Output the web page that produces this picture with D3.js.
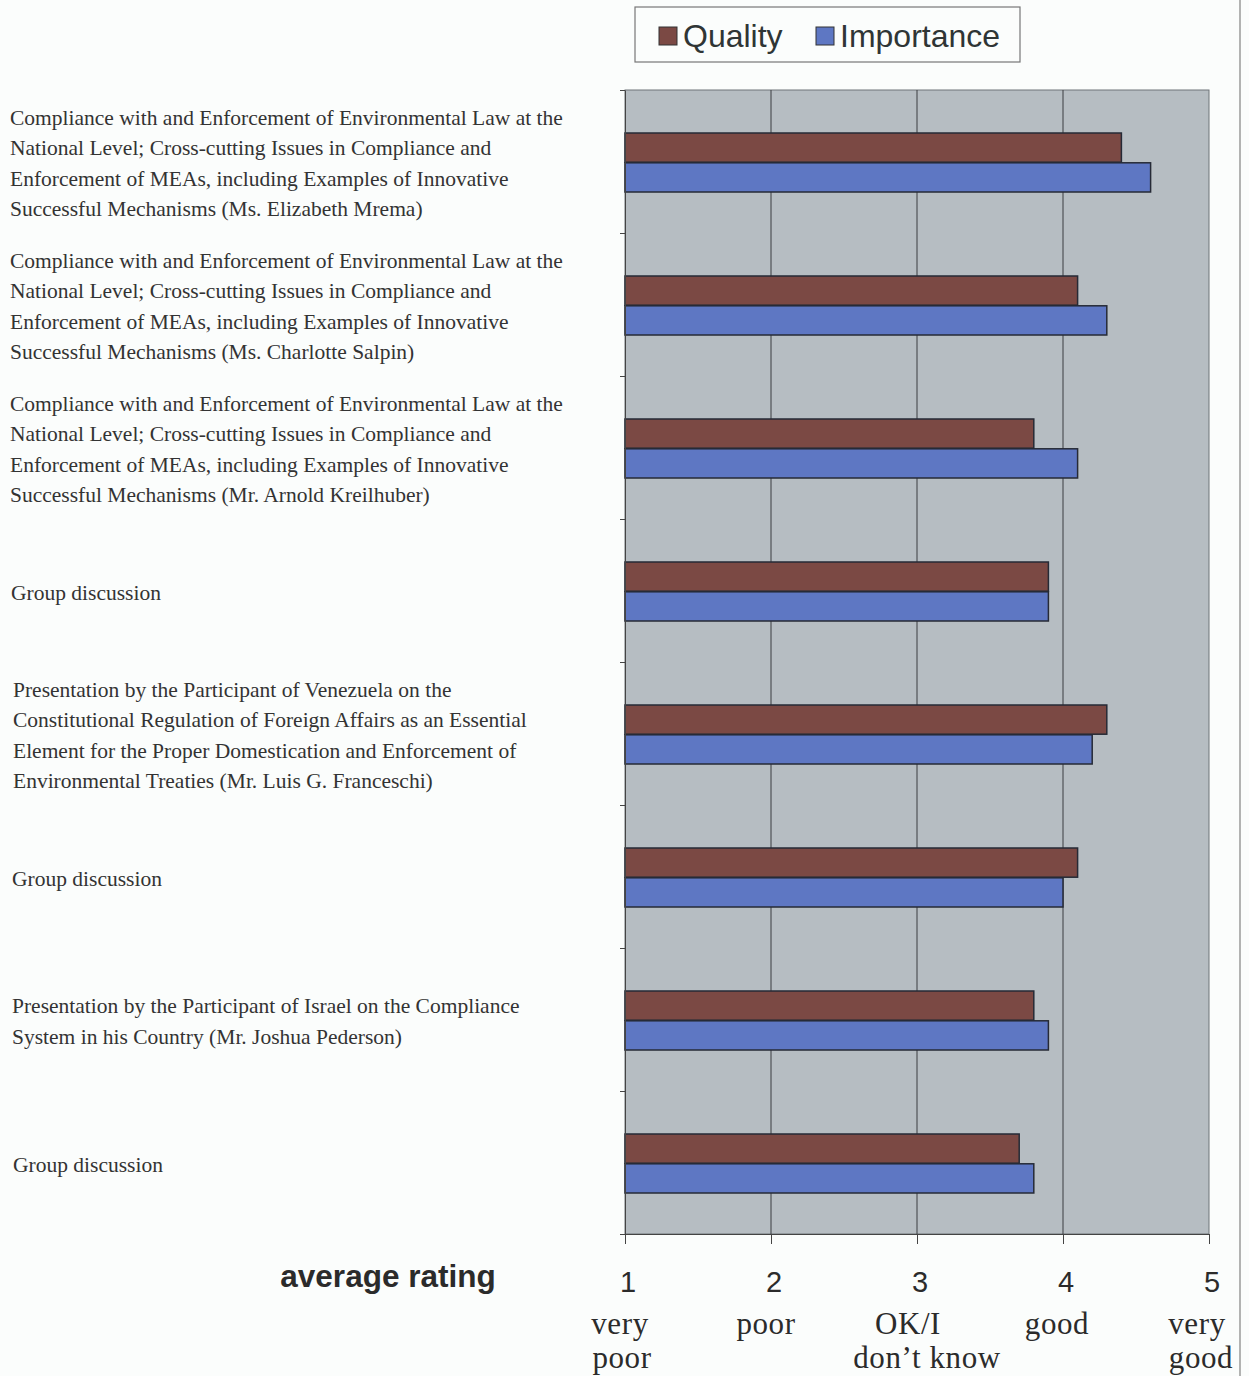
<!DOCTYPE html>
<html>
<head>
<meta charset="utf-8">
<script src="https://cdn.jsdelivr.net/npm/d3@7"></script>
<style>
  html, body { margin: 0; padding: 0; background: #fbfdfc; }
  svg { display: block; }
</style>
</head>
<body>
<script>
// Session titles, one array of text lines per session
const sessions = [
  ["Compliance with and Enforcement of Environmental Law at the",
   "National Level; Cross-cutting Issues in Compliance and",
   "Enforcement of MEAs, including Examples of Innovative",
   "Successful Mechanisms (Ms. Elizabeth Mrema)"],
  ["Compliance with and Enforcement of Environmental Law at the",
   "National Level; Cross-cutting Issues in Compliance and",
   "Enforcement of MEAs, including Examples of Innovative",
   "Successful Mechanisms (Ms. Charlotte Salpin)"],
  ["Compliance with and Enforcement of Environmental Law at the",
   "National Level; Cross-cutting Issues in Compliance and",
   "Enforcement of MEAs, including Examples of Innovative",
   "Successful Mechanisms (Mr. Arnold Kreilhuber)"],
  ["Group discussion"],
  ["Presentation by the Participant of Venezuela on the",
   "Constitutional Regulation of Foreign Affairs as an Essential",
   "Element for the Proper Domestication and Enforcement of",
   "Environmental Treaties (Mr. Luis G. Franceschi)"],
  ["Group discussion"],
  ["Presentation by the Participant of Israel on the Compliance",
   "System in his Country (Mr. Joshua Pederson)"],
  ["Group discussion"]
];

// Average ratings per session
const quality    = [4.4, 4.1, 3.8, 3.9, 4.3, 4.1, 3.8, 3.7];
const importance = [4.6, 4.3, 4.1, 3.9, 4.2, 4.0, 3.9, 3.8];

const seriesNames = ["Quality", "Importance"];
const seriesColors = ["#7b4944", "#5e77c3"];

// Rating scale ticks and their meaning
const ratingTicks = [1, 2, 3, 4, 5];
const ratingWords = [["very", "poor"], ["poor"], ["OK/I", "don\u2019t know"], ["good"], ["very", "good"]];

const W = 1249, H = 1376;
const plot = { left: 625, right: 1209, top: 90, bottom: 1234 };

const svg = d3.select("body").append("svg")
  .attr("width", W).attr("height", H);

const x = d3.scaleLinear().domain([1, 5]).range([plot.left, plot.right]);
const y = d3.scaleBand().domain(d3.range(sessions.length))
  .range([plot.top, plot.bottom]);
const inner = d3.scaleBand().domain(seriesNames)
  .range([43, 102]).paddingInner(0.02);

// page border on the right
svg.append("line")
  .attr("x1", 1240).attr("x2", 1240).attr("y1", 0).attr("y2", H)
  .attr("stroke", "#9a9a9a").attr("stroke-width", 1.5);

// plot background
svg.append("rect")
  .attr("x", plot.left).attr("y", plot.top)
  .attr("width", plot.right - plot.left).attr("height", plot.bottom - plot.top)
  .attr("fill", "#b6bdc2").attr("stroke", "#6f7478").attr("stroke-width", 1);

// vertical gridlines
svg.append("g").selectAll("line")
  .data(ratingTicks.slice(1, -1))
  .join("line")
  .attr("x1", d => x(d)).attr("x2", d => x(d))
  .attr("y1", plot.top).attr("y2", plot.bottom)
  .attr("stroke", "#3a3d40").attr("stroke-width", 1);

// bars
const rows = sessions.map((s, i) => ({ i, values: [quality[i], importance[i]] }));
const groups = svg.append("g").selectAll("g")
  .data(rows).join("g")
  .attr("transform", d => `translate(0,${y(d.i)})`);
groups.selectAll("rect")
  .data(d => d.values.map((v, k) => ({ v, k })))
  .join("rect")
  .attr("x", x(1))
  .attr("y", d => inner(seriesNames[d.k]))
  .attr("width", d => x(d.v) - x(1))
  .attr("height", inner.bandwidth())
  .attr("fill", d => seriesColors[d.k])
  .attr("stroke", "#262a36").attr("stroke-width", 1.5);

// left axis (category ticks, no labels)
const yAxis = d3.axisLeft(d3.scaleLinear().domain([0, sessions.length]).range([plot.top, plot.bottom]))
  .tickValues(d3.range(sessions.length + 1)).tickFormat("").tickSize(5).tickSizeOuter(0);
svg.append("g").attr("transform", `translate(${plot.left},0)`).call(yAxis)
  .call(g => g.selectAll("line,path").attr("stroke", "#444"));

// bottom axis
const xAxis = d3.axisBottom(x).tickValues(ratingTicks).tickFormat("")
  .tickSize(10).tickSizeOuter(0);
svg.append("g").attr("transform", `translate(0,${plot.bottom})`).call(xAxis)
  .call(g => g.selectAll("line,path").attr("stroke", "#444"));

// rating numbers
svg.append("g").selectAll("text")
  .data(ratingTicks).join("text")
  .attr("x", d => x(d) + 3).attr("y", 1292)
  .attr("text-anchor", "middle")
  .attr("font-family", "Liberation Sans, Arial, sans-serif")
  .attr("font-size", 29).attr("fill", "#2b2b2b")
  .text(d => d);

// rating words, each line centred under its tick with a small shift
const wordShift = [[-5, -3], [-5], [-9, 10], [-6], [-12, -8]];
ratingTicks.forEach((t, i) => {
  ratingWords[i].forEach((w, j) => {
    svg.append("text")
      .attr("x", x(t) + wordShift[i][j]).attr("y", 1334 + j * 34)
      .attr("text-anchor", "middle")
      .attr("font-family", "Liberation Serif, Times New Roman, serif")
      .attr("font-size", 31).attr("letter-spacing", 0.6).attr("fill", "#2b2b2b")
      .text(w);
  });
});

// axis title
svg.append("text")
  .attr("x", 388).attr("y", 1287)
  .attr("text-anchor", "middle")
  .attr("font-family", "Liberation Sans, Arial, sans-serif")
  .attr("font-size", 31.5).attr("font-weight", "bold").attr("fill", "#2b2b2b")
  .text("average rating");

// session labels
const labelX = [10, 10, 10, 11, 13, 12, 12, 13];
sessions.forEach((lines, i) => {
  const cy = y(i) + y.bandwidth() / 2 + 2;
  const lh = 30.2;
  const first = cy - (lines.length - 1) * lh / 2 + 7;
  const t = svg.append("text")
    .attr("font-family", "Liberation Serif, Times New Roman, serif")
    .attr("font-size", 21.5).attr("fill", "#333");
  lines.forEach((ln, j) => {
    t.append("tspan").attr("x", labelX[i]).attr("y", first + j * lh).text(ln);
  });
});

// legend
const lg = svg.append("g");
lg.append("rect")
  .attr("x", 635).attr("y", 7).attr("width", 385).attr("height", 55)
  .attr("fill", "#fbfdfc").attr("stroke", "#777").attr("stroke-width", 1.2);
const legendX = [659, 816];
seriesNames.forEach((name, k) => {
  lg.append("rect")
    .attr("x", legendX[k]).attr("y", 27).attr("width", 18).attr("height", 18)
    .attr("fill", seriesColors[k]).attr("stroke", "#333").attr("stroke-width", 1);
  lg.append("text")
    .attr("x", legendX[k] + 24).attr("y", 47)
    .attr("font-family", "Liberation Sans, Arial, sans-serif")
    .attr("font-size", 32).attr("fill", "#2f3535")
    .text(name);
});
</script>
</body>
</html>
